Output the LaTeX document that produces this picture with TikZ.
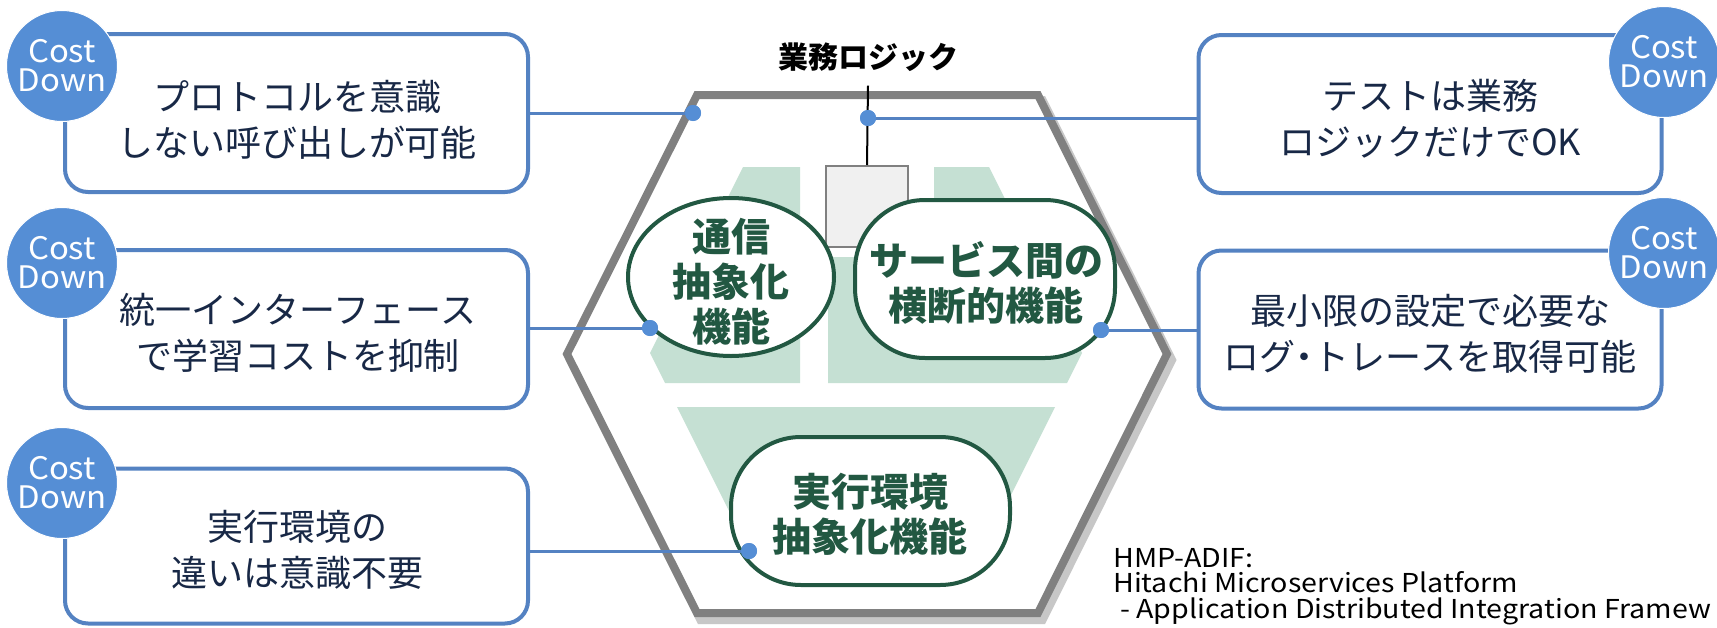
\documentclass[tikz,border=0pt]{standalone}
\usepackage{fontspec}
\setmainfont{Noto Sans CJK JP}
\newfontfamily\notefont{Noto Sans CJK JP}[FakeStretch=1.1]
\newfontfamily\cdfont{Noto Sans CJK JP}[FakeStretch=1.06]
\usetikzlibrary{shapes.geometric}
\definecolor{boxblue}{RGB}{84,130,194}
\definecolor{circblue}{RGB}{85,142,213}
\definecolor{navy}{RGB}{24,40,70}
\definecolor{lgreen}{RGB}{197,224,211}
\definecolor{dgreen}{RGB}{34,88,66}
\definecolor{hexgray}{RGB}{128,128,128}
\definecolor{boxgray}{RGB}{240,240,240}
\begin{document}
\begin{tikzpicture}[x=1pt,y=-1pt,
 infobox/.style={draw=boxblue, line width=4pt, rounded corners=23pt, fill=white, minimum width=463pt, minimum height=158pt, inner sep=0},
 cdcirc/.style={circle, fill=circblue, draw=white, line width=1pt, minimum size=111pt, inner sep=0, text=white, font=\cdfont\fontsize{31}{29}\selectfont, align=center},
 infotext/.style={text=navy, font=\fontsize{36}{46}\selectfont, align=center, inner sep=0},
 func/.style={draw=dgreen, line width=4pt, fill=white, inner sep=0},
 functext/.style={text=dgreen, font=\fontsize{39}{45}\selectfont\bfseries, align=center, inner sep=0},
 link/.style={draw=boxblue, line width=3pt},
 dot/.style={circle, fill=circblue, minimum size=16pt, inner sep=0},
 note/.style={anchor=base west, inner sep=0, font=\notefont\fontsize{26}{26}\selectfont, text=black},
]
\useasboundingbox (0,0) rectangle (1717,627);
\fill[white] (0,0) rectangle (1717,627);
% hexagon with shadow
\draw[black!22, line width=10pt, shift={(4,6)}] (697,95) -- (1038,95) -- (1167,354) -- (1038,613) -- (697,613) -- (567,354) -- cycle;
\draw[hexgray, line width=8pt, fill=white] (697,95) -- (1038,95) -- (1167,354) -- (1038,613) -- (697,613) -- (567,354) -- cycle;
% green background regions
\fill[lgreen] (743,167) -- (800,167) -- (800,383) -- (665,383) -- (650,353) -- cycle;
\fill[lgreen] (828,167) -- (989,167) -- (1082,353) -- (1067,383) -- (828,383) -- cycle;
\fill[lgreen] (677,407) -- (1055,407) -- (989,539) -- (743,539) -- cycle;
\fill[white] (826,160) rectangle (934,257);
% business logic box and label
\node[draw=hexgray, fill=boxgray, line width=2pt, minimum width=82pt, minimum height=81pt, inner sep=0] (logic) at (867,206.5) {};
\node[font=\fontsize{30}{30}\selectfont\bfseries, inner xsep=0, inner ysep=14pt] (lbl) at (868,57) {業務ロジック};
\draw[line width=2pt] (lbl.south) -- (logic.north);
% function shapes
\node[func, ellipse, minimum width=206pt, minimum height=158pt] (comm) at (731,277) {};
\node[func, rectangle, rounded corners=70pt, minimum width=260pt, minimum height=158pt] (serv) at (985,279) {};
\node[func, rectangle, rounded corners=70pt, minimum width=279pt, minimum height=148pt] (runt) at (870.5,511) {};
\node[functext] (commt) at (731,282) {通信\\抽象化\\機能};
\node[functext] (servt) at (986,283) {サービス間の\\横断的機能};
\node[functext] (runtt) at (870,514) {実行環境\\抽象化機能};
% dots
\node[dot] (d1) at (693,113) {};
\node[dot] (d2) at (650,328) {};
\node[dot] (d3) at (749,551) {};
\node[dot] (d4) at (868,118) {};
\node[dot] (d5) at (1101,330) {};
% info boxes
\node[infobox] (b1) at (296.5,113) {};
\node[infobox] (b2) at (296.5,329) {};
\node[infobox, minimum height=155pt] (b3) at (296.5,546) {};
\node[infobox] (b4) at (1430,114) {};
\node[infobox] (b5) at (1430,329.5) {};
% connectors
\draw[link] (b1.east) -- (d1.center);
\draw[link] (d2 -| b2.east) -- (d2.center);
\draw[link] (d3 -| b3.east) -- (d3.center);
\draw[link] (d4.center) -- (d4 -| b4.west);
\draw[link] (d5.center) -- (d5 -| b5.west);
\node[dot] at (d1) {};
\node[dot] at (d2) {};
\node[dot] at (d3) {};
\node[dot] at (d4) {};
\node[dot] at (d5) {};
% cost down circles
\node[cdcirc] (c1) at (62,66) {Cost\\Down};
\node[cdcirc] (c2) at (62,263) {Cost\\Down};
\node[cdcirc] (c3) at (62,483) {Cost\\Down};
\node[cdcirc] (c4) at (1664,62) {Cost\\Down};
\node[cdcirc] (c5) at (1664,253) {Cost\\Down};
% box texts
\node[infotext] (t1) at (297,120) {プロトコルを意識\\しない呼び出しが可能};
\node[infotext] (t2) at (298,332.5) {統一インターフェース\\で学習コストを抑制};
\node[infotext] (t3) at (297,550) {実行環境の\\違いは意識不要};
\node[infotext] (t4) at (1430,118.5) {テストは業務\\ロジックだけでOK};
\node[infotext] (t5) at (1430,334) {最小限の設定で必要な\\ログ{\addfontfeature{RawFeature=+palt}・}トレースを取得可能};
% note
\node[note] (n1) at (1113,567) {HMP-ADIF:};
\node[note] (n2) at (1113,592) {Hitachi Microservices Platform};
\node[note] (n3) at (1120,618) {- Application Distributed Integration Framew};
\end{tikzpicture}
\end{document}
